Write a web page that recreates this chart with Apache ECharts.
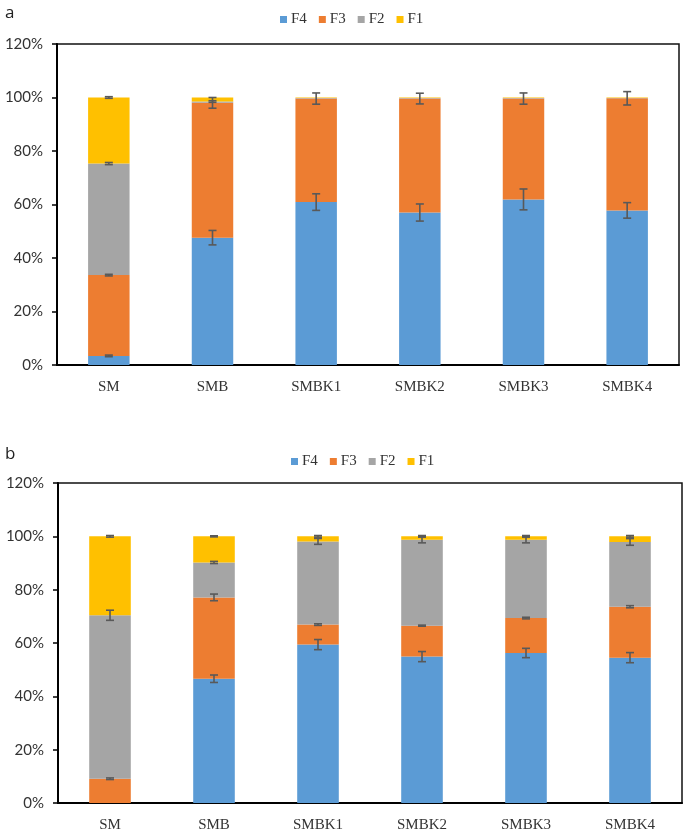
<!DOCTYPE html>
<html>
<head>
<meta charset="utf-8">
<script src="https://cdn.jsdelivr.net/npm/echarts@6/dist/echarts.min.js"></script>
<style>html,body{margin:0;padding:0;background:#fff}#c{width:685px;height:834px}</style>
</head>
<body>
<div id="c"></div>
<script>
var categories = ['SM', 'SMB', 'SMBK1', 'SMBK2', 'SMBK3', 'SMBK4'];
var seriesNames = ['F4', 'F3', 'F2', 'F1'];
var yTicks = [0, 20, 40, 60, 80, 100, 120];

// Panel a values (%)
var a_F4 = [3.4, 47.6, 60.9, 57.0, 61.9, 57.8];
var a_F3 = [30.2, 50.4, 38.7, 42.6, 37.7, 41.9];
var a_F2 = [41.7, 0.5, 0.2, 0.2, 0.2, 0.1];
var a_F1 = [24.7, 1.5, 0.2, 0.2, 0.2, 0.2];
// Panel a error (+/-)
var a_F4_err = [0.3, 2.7, 3.1, 3.2, 3.9, 2.9];
var a_F3_err = [0.3, 2.0, 2.1, 2.0, 2.1, 2.5];
var a_F2_err = [0.4, 0.3, 0, 0, 0, 0];
var a_F1_err = [0.3, 0, 0, 0, 0, 0];

// Panel b values (%)
var b_F4 = [0, 46.6, 59.4, 54.9, 56.25, 54.5];
var b_F3 = [9.1, 30.5, 7.5, 11.6, 13.1, 19.1];
var b_F2 = [61.3, 13.1, 31.2, 32.25, 29.4, 24.3];
var b_F1 = [29.6, 9.8, 1.9, 1.25, 1.25, 2.1];
// Panel b error (+/-)
var b_F4_err = [0, 1.4, 1.9, 1.9, 1.75, 1.9];
var b_F3_err = [0.3, 1.25, 0.3, 0.2, 0.3, 0.4];
var b_F2_err = [1.9, 0.4, 1.1, 1.2, 1.2, 1.25];
var b_F1_err = [0.3, 0.2, 0.3, 0.3, 0.3, 0.3];

var colors = ['#5B9BD5', '#ED7D31', '#A5A5A5', '#FFC000'];

function errData(vals, errs) {
  var out = [];
  for (var i = 0; i < categories.length; i++) {
    var cum = 0;
    for (var s = 0; s < vals.length; s++) {
      cum += vals[s][i];
      if (errs[s][i] > 0) out.push([i, cum, errs[s][i]]);
    }
  }
  return out;
}

function renderErr(params, api) {
  var x = api.value(0), y = api.value(1), e = api.value(2);
  var hi = api.coord([x, y + e]);
  var lo = api.coord([x, y - e]);
  var cx = hi[0];
  var cap = 4;
  var st = {stroke: '#595959', lineWidth: 1.6};
  return {
    type: 'group',
    children: [
      {type: 'line', shape: {x1: cx, y1: hi[1], x2: cx, y2: lo[1]}, style: st},
      {type: 'line', shape: {x1: cx - cap, y1: hi[1], x2: cx + cap, y2: hi[1]}, style: st},
      {type: 'line', shape: {x1: cx - cap, y1: lo[1], x2: cx + cap, y2: lo[1]}, style: st}
    ]
  };
}

var gridTop = [44, 483];
var grids = [
  {left: 57, right: 6, top: 44, height: 321},
  {left: 58, right: 3, top: 483, height: 320}
];

var xAxes = [], yAxes = [], series = [], legends = [];
var panels = [
  {vals: [a_F4, a_F3, a_F2, a_F1], errs: [a_F4_err, a_F3_err, a_F2_err, a_F1_err], legendLeft: 275, legendTop: 7},
  {vals: [b_F4, b_F3, b_F2, b_F1], errs: [b_F4_err, b_F3_err, b_F2_err, b_F1_err], legendLeft: 286, legendTop: 449}
];

panels.forEach(function (p, k) {
  xAxes.push({
    type: 'category', gridIndex: k, data: categories,
    axisLine: {lineStyle: {color: '#000', width: 2}},
    axisTick: {show: false},
    axisLabel: {fontFamily: 'Liberation Serif', fontSize: 15, color: '#333', margin: 15}
  });
  yAxes.push({
    type: 'value', gridIndex: k, min: 0, max: 120, interval: 20,
    axisLine: {show: true, lineStyle: {color: '#000', width: 2}},
    axisTick: {show: true, length: 5, lineStyle: {color: '#000', width: 1.5}},
    splitLine: {show: false},
    axisLabel: {fontFamily: 'Lato', fontSize: 15, color: '#333', margin: 14, formatter: '{value}%'}
  });
  seriesNames.forEach(function (n, s) {
    series.push({
      name: n, type: 'bar', stack: 'p' + k, xAxisIndex: k, yAxisIndex: k,
      barWidth: '40%', data: p.vals[s], itemStyle: {color: colors[s]},
      emphasis: {disabled: true}
    });
  });
  series.push({
    type: 'custom', name: 'err' + k, xAxisIndex: k, yAxisIndex: k, z: 10,
    renderItem: renderErr, data: errData(p.vals, p.errs),
    encode: {x: 0, y: 1}
  });
  legends.push({
    data: seriesNames, left: p.legendLeft, top: p.legendTop,
    icon: 'rect', itemWidth: 7, itemHeight: 7, itemGap: 12,
    textStyle: {fontFamily: 'Liberation Serif', fontSize: 15, color: '#333', padding: [0, 0, 0, -1]}
  });
});

grids.forEach(function (g) { g.show = true; g.borderColor = '#111'; g.borderWidth = 1.5; });

var chart = echarts.init(document.getElementById('c'), null, {renderer: 'canvas'});
chart.setOption({
  animation: false,
  grid: grids,
  xAxis: xAxes,
  yAxis: yAxes,
  legend: legends,
  series: series,
  graphic: [
    {type: 'text', left: 5, top: 5, style: {text: 'a', font: '17px "Open Sans"', fill: '#222'}},
    {type: 'text', left: 5, top: 446, style: {text: 'b', font: '17px "Open Sans"', fill: '#222'}}
  ]
});
</script>
</body>
</html>
